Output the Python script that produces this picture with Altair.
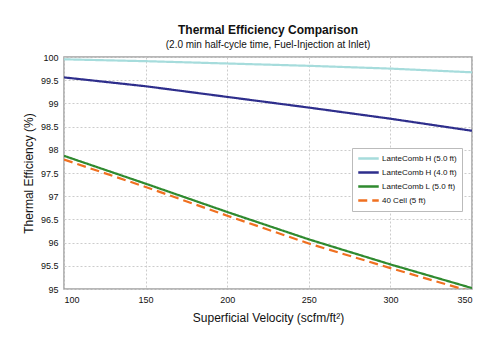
import altair as alt
import pandas as pd

velocity = [100, 150, 200, 250, 300, 350]
series_names = ["LanteComb H (5.0 ft)", "LanteComb H (4.0 ft)", "LanteComb L (5.0 ft)", "40 Cell (5 ft)"]
h50 = [99.95, 99.91, 99.86, 99.81, 99.75, 99.67]
h40 = [99.56, 99.37, 99.14, 98.91, 98.67, 98.41]
l50 = [97.87, 97.27, 96.66, 96.07, 95.53, 95.02]
cell40 = [97.79, 97.20, 96.58, 95.98, 95.45, 94.94]
colors = ["#a6dcdc", "#2e2e8c", "#2f8a2f", "#f07020"]
dashes = [[1, 0], [1, 0], [1, 0], [9, 5]]

rows = []
for name, vals in zip(series_names, [h50, h40, l50, cell40]):
    for v, e in zip(velocity, vals):
        rows.append({"velocity": v, "efficiency": e, "series": name})
df = pd.DataFrame(rows)

font = "Liberation Sans"

chart = alt.Chart(df).mark_line(strokeWidth=2.2, clip=True).encode(
    x=alt.X("velocity:Q",
            scale=alt.Scale(domain=[100, 350], nice=False),
            axis=alt.Axis(values=[100, 150, 200, 250, 300, 350], title="Superficial Velocity (scfm/ft²)",
                          titleFontSize=12, titleFontWeight="normal", titlePadding=8,
                          labelFontSize=9, tickSize=0, labelPadding=6)),
    y=alt.Y("efficiency:Q",
            scale=alt.Scale(domain=[95, 100], nice=False),
            axis=alt.Axis(values=[95, 95.5, 96, 96.5, 97, 97.5, 98, 98.5, 99, 99.5, 100],
                          labelExpr="'' + datum.value",
                          title="Thermal Efficiency (%)", titleFontSize=12, titleFontWeight="normal",
                          titlePadding=5, labelFontSize=9, tickSize=0, labelPadding=6)),
    color=alt.Color("series:N", scale=alt.Scale(domain=series_names, range=colors),
                    legend=alt.Legend(title=None, orient="none", legendX=288, legendY=91,
                                      symbolType="stroke", symbolStrokeWidth=2.5, symbolSize=420,
                                      clipHeight=11, labelFontSize=8, fillColor="white",
                                      strokeColor="#bbbbbb", padding=5, rowPadding=3,
                                      labelOffset=2, labelLimit=200)),
    strokeDash=alt.StrokeDash("series:N", scale=alt.Scale(domain=series_names, range=dashes), legend=None),
).properties(
    width=408, height=232,
    title=alt.TitleParams("Thermal Efficiency Comparison",
                          subtitle="(2.0 min half-cycle time, Fuel-Injection at Inlet)",
                          fontSize=12, fontWeight="bold", subtitleFontSize=10,
                          anchor="middle", offset=2, subtitlePadding=3),
    autosize=alt.AutoSizeParams(type="none"),
    padding={"left": 64, "top": 57, "right": 28, "bottom": 61},
).configure(font=font).configure_view(
    stroke="#a0a0a0", strokeWidth=1.5
).configure_axis(
    gridColor="#cccccc", gridDash=[2, 2], domain=False, labelColor="#111111", titleColor="#111111"
).configure_title(color="#111111", subtitleColor="#111111").configure_legend(labelColor="#111111")

chart.save("out.html", embed_options={"renderer": "svg", "actions": False})
